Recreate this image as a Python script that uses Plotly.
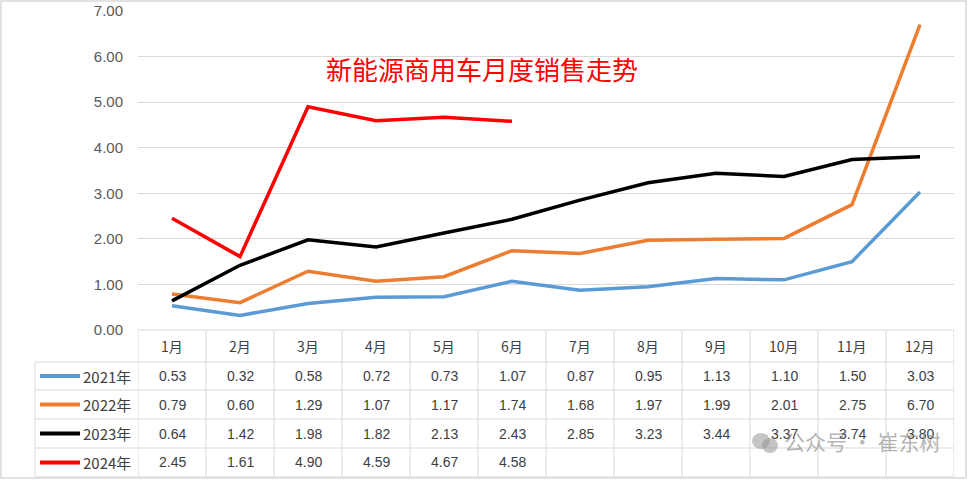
import plotly.graph_objects as go

months = ["1月", "2月", "3月", "4月", "5月", "6月", "7月", "8月", "9月", "10月", "11月", "12月"]
series_names = ["2021年", "2022年", "2023年", "2024年"]
v2021 = [0.53, 0.32, 0.58, 0.72, 0.73, 1.07, 0.87, 0.95, 1.13, 1.10, 1.50, 3.03]
v2022 = [0.79, 0.60, 1.29, 1.07, 1.17, 1.74, 1.68, 1.97, 1.99, 2.01, 2.75, 6.70]
v2023 = [0.64, 1.42, 1.98, 1.82, 2.13, 2.43, 2.85, 3.23, 3.44, 3.37, 3.74, 3.80]
v2024 = [2.45, 1.61, 4.90, 4.59, 4.67, 4.58]
colors = ["#5B9BD5", "#ED7D31", "#000000", "#FF0000"]
title_text = "新能源商用车月度销售走势"
watermark_text = "公众号 · 崔东树"
y_ticks = [0, 1, 2, 3, 4, 5, 6, 7]

all_series = [v2021, v2022, v2023, v2024]

W, H = 968, 480
L, R, T, B = 138, 14, 11, 150
pw, ph = W - L - R, H - T - B

def px(x):
    return (x - L) / pw

def py(y):
    return (H - B - y) / ph

fig = go.Figure()
for name, vals, c in zip(series_names, all_series, colors):
    fig.add_trace(go.Scatter(x=months[:len(vals)], y=vals, mode="lines", name=name,
                             line=dict(color=c, width=3.5), showlegend=False, hoverinfo="skip"))

shapes = []
ann = []
grid_c = "#D9D9D9"
font = "Liberation Sans, Arial, sans-serif"
cjk = "Noto Sans CJK SC, sans-serif"

row_tops = [330, 362, 390, 419, 448, 477]
for i, yy in enumerate(row_tops):
    x0 = px(138) if i == 0 else px(35)
    shapes.append(dict(type="line", xref="paper", yref="paper", x0=x0, x1=1,
                       y0=py(yy), y1=py(yy), line=dict(color=grid_c, width=1)))
for i in range(len(months) + 1):
    shapes.append(dict(type="line", xref="x", yref="paper", x0=i - 0.5, x1=i - 0.5,
                       y0=py(330), y1=py(477), line=dict(color=grid_c, width=1)))
shapes.append(dict(type="line", xref="paper", yref="paper", x0=px(35), x1=px(35),
                   y0=py(362), y1=py(477), line=dict(color=grid_c, width=1)))

for m in months:
    ann.append(dict(x=m, xref="x", y=py(346), yref="paper", text=m, showarrow=False,
                    xanchor="center", yanchor="middle",
                    font=dict(family=cjk, size=14, color="#404040")))
for r, (name, vals, c) in enumerate(zip(series_names, all_series, colors)):
    yc = (row_tops[r + 1] + row_tops[r + 2]) / 2
    for m, v in zip(months, vals):
        ann.append(dict(x=m, xref="x", y=py(yc), yref="paper", text=f"{v:.2f}", showarrow=False,
                        xanchor="center", yanchor="middle",
                        font=dict(family=font, size=14, color="#404040")))
    shapes.append(dict(type="line", xref="paper", yref="paper", x0=px(40), x1=px(80),
                       y0=py(yc), y1=py(yc), line=dict(color=c, width=4)))
    ann.append(dict(x=px(81), xref="paper", y=py(yc), yref="paper", text=name, showarrow=False,
                    xanchor="left", yanchor="middle", font=dict(family=cjk, size=15, color="#404040")))

ann.append(dict(x=px(482), xref="paper", y=py(68), yref="paper", text=title_text, showarrow=False,
                xanchor="center", yanchor="middle",
                font=dict(family=cjk, size=26, color="#FF0000")))
# watermark icon + text
shapes.append(dict(type="circle", xref="paper", yref="paper", x0=px(752), x1=px(770),
                   y0=py(449), y1=py(433), fillcolor="rgba(150,150,150,0.55)", line=dict(width=0)))
shapes.append(dict(type="circle", xref="paper", yref="paper", x0=px(762), x1=px(778),
                   y0=py(453), y1=py(438), fillcolor="rgba(150,150,150,0.55)", line=dict(width=0)))
ann.append(dict(x=px(782), xref="paper", y=py(441), yref="paper", text=watermark_text, showarrow=False,
                xanchor="left", yanchor="middle",
                font=dict(family=cjk, size=21, color="rgba(130,130,130,0.6)")))

shapes.append(dict(type="rect", xref="paper", yref="paper", x0=px(1), x1=px(966), y0=py(478), y1=py(1),
                   line=dict(color=grid_c, width=1.5)))

fig.update_layout(
    width=W, height=H, margin=dict(l=L, r=R, t=T, b=B, autoexpand=False),
    paper_bgcolor="white", plot_bgcolor="white",
    shapes=shapes, annotations=ann,
    xaxis=dict(type="category", categoryorder="array", categoryarray=months, range=[-0.5, 11.5],
               showticklabels=False, showgrid=False, zeroline=False, showline=False, ticks="",
               automargin=False),
    yaxis=dict(range=[0, 7], tickvals=y_ticks, tickformat=".2f", showgrid=True, gridcolor=grid_c,
               gridwidth=1, zeroline=False, showline=False, ticks="", ticklabelstandoff=14,
               automargin=False, tickfont=dict(family=font, size=15, color="#595959")),
)

fig.write_html("out.html", config={"displayModeBar": False},
               post_script="document.body.style.margin='0';")
